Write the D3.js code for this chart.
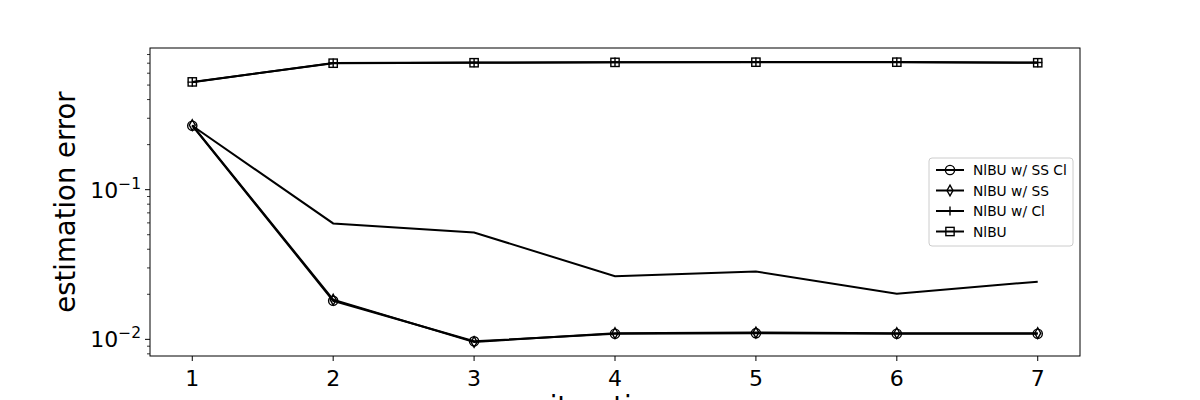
<!DOCTYPE html>
<meta charset="utf-8">
<html>
<head>
<style>
  body { margin: 0; background: white; }
  svg text { font-family: "DejaVu Sans", sans-serif; fill: black; }
</style>
</head>
<body>
<div id="chart"></div>
<script src="https://d3js.org/d3.v7.min.js"></script>
<script>
  var iterations = [1, 2, 3, 4, 5, 6, 7];
  var ssCl   = [0.2675, 0.0181, 0.0097, 0.0109, 0.0110, 0.0109, 0.0109];
  var ss     = [0.2700, 0.0184, 0.0096, 0.0110, 0.0111, 0.0110, 0.0110];
  var cl     = [0.523, 0.702, 0.707, 0.711, 0.713, 0.713, 0.707];
  var plain  = [0.525, 0.700, 0.705, 0.709, 0.711, 0.711, 0.705];
  var other  = [0.2675, 0.0595, 0.0518, 0.0264, 0.0284, 0.0202, 0.0243];
  var xTicks = [1, 2, 3, 4, 5, 6, 7];
  var yTicks = [0.01, 0.1];

  var series = [
    {name: "NlBU w/ SS Cl", values: ssCl, marker: "circle"},
    {name: "NlBU w/ SS", values: ss, marker: "diamond"},
    {name: "NlBU w/ Cl", values: cl, marker: "plus"},
    {name: "NlBU", values: plain, marker: "square"},
    {name: null, values: other, marker: null}
  ];

  var W = 1200, H = 400;
  var margin = {top: 48, right: 120, bottom: 44, left: 150};
  var width = W - margin.left - margin.right,
      height = H - margin.top - margin.bottom;

  var svg = d3.select("#chart").append("svg")
      .attr("width", W).attr("height", H);
  var g = svg.append("g")
      .attr("transform", "translate(" + margin.left + "," + margin.top + ")");

  // matplotlib-like 5% margins
  var x = d3.scaleLinear().domain([0.7, 7.3]).range([0, width]);
  var all = [].concat(ssCl, ss, cl, plain, other);
  var lo = Math.log10(d3.min(all)), hi = Math.log10(d3.max(all));
  var pad = (hi - lo) * 0.05;
  var y = d3.scaleLog().domain([Math.pow(10, lo - pad), Math.pow(10, hi + pad)]).range([height, 0]);

  // x axis
  var xa = g.append("g").attr("transform", "translate(0," + height + ")");
  xTicks.forEach(function(t) {
    xa.append("line").attr("x1", x(t)).attr("x2", x(t)).attr("y1", 0).attr("y2", 5)
      .attr("stroke", "black").attr("stroke-width", 1);
    xa.append("text").attr("x", x(t)).attr("y", 30).attr("text-anchor", "middle")
      .style("font-size", "22px").text(t);
  });

  // y axis major + minor
  var ya = g.append("g");
  var minor = [];
  for (var e = -3; e <= 0; e++) {
    for (var k = 2; k <= 9; k++) {
      var v = k * Math.pow(10, e);
      if (v >= y.domain()[0] && v <= y.domain()[1]) minor.push(v);
    }
  }
  minor.forEach(function(v) {
    ya.append("line").attr("x1", -3).attr("x2", 0).attr("y1", y(v)).attr("y2", y(v))
      .attr("stroke", "black").attr("stroke-width", 0.8);
  });
  yTicks.forEach(function(v) {
    ya.append("line").attr("x1", -5).attr("x2", 0).attr("y1", y(v)).attr("y2", y(v))
      .attr("stroke", "black").attr("stroke-width", 1);
    var t = ya.append("text").attr("x", -9).attr("y", y(v) + 8).attr("text-anchor", "end")
      .style("font-size", "22px");
    t.append("tspan").text("10");
    t.append("tspan").attr("dy", -9).style("font-size", "15.5px").text("\u2212" + Math.round(-Math.log10(v)));
  });

  // frame
  g.append("rect").attr("width", width).attr("height", height)
    .attr("fill", "none").attr("stroke", "black").attr("stroke-width", 1);

  // labels
  svg.append("text").attr("transform", "translate(75," + (margin.top + height / 2) + ") rotate(-90)")
    .attr("text-anchor", "middle").style("font-size", "27.5px").text("estimation error");
  svg.append("text").attr("x", margin.left + width / 2).attr("y", 416)
    .attr("text-anchor", "middle").style("font-size", "27.5px").text("iterations");

  function drawMarker(sel, type, cx, cy) {
    var s = 4.6;
    if (type === "circle") {
      sel.append("circle").attr("cx", cx).attr("cy", cy).attr("r", s)
        .attr("fill", "none").attr("stroke", "black").attr("stroke-width", 1.4);
    } else if (type === "diamond") {
      sel.append("path").attr("d", "M" + cx + "," + (cy - s - 0.8) + "L" + (cx + s * 0.65) + "," + cy +
        "L" + cx + "," + (cy + s + 0.8) + "L" + (cx - s * 0.65) + "," + cy + "Z")
        .attr("fill", "none").attr("stroke", "black").attr("stroke-width", 1.4);
    } else if (type === "plus") {
      sel.append("path").attr("d", "M" + (cx - s) + "," + cy + "H" + (cx + s) + "M" + cx + "," + (cy - s) + "V" + (cy + s))
        .attr("fill", "none").attr("stroke", "black").attr("stroke-width", 1.4);
    } else if (type === "square") {
      sel.append("rect").attr("x", cx - s * 0.9).attr("y", cy - s * 0.9).attr("width", s * 1.8).attr("height", s * 1.8)
        .attr("fill", "none").attr("stroke", "black").attr("stroke-width", 1.4);
    }
  }

  var line = d3.line().x(function(d, i) { return x(iterations[i]); }).y(function(d) { return y(d); });
  series.forEach(function(s) {
    g.append("path").datum(s.values).attr("d", line)
      .attr("fill", "none").attr("stroke", "black").attr("stroke-width", 2);
    if (s.marker) {
      var mg = g.append("g");
      s.values.forEach(function(v, i) { drawMarker(mg, s.marker, x(iterations[i]), y(v)); });
    }
  });

  // legend
  var lg = svg.append("g").attr("transform", "translate(929,158)");
  lg.append("rect").attr("width", 144).attr("height", 88).attr("rx", 3)
    .attr("fill", "white").attr("fill-opacity", 0.8).attr("stroke", "#cccccc").attr("stroke-width", 1);
  series.filter(function(s) { return s.name; }).forEach(function(s, i) {
    var cy = 12 + i * 20.5;
    lg.append("line").attr("x1", 7).attr("x2", 35).attr("y1", cy).attr("y2", cy)
      .attr("stroke", "black").attr("stroke-width", 2);
    drawMarker(lg, s.marker, 21, cy);
    lg.append("text").attr("x", 44).attr("y", cy + 5).style("font-size", "13.8px").text(s.name);
  });
</script>
</body>
</html>
